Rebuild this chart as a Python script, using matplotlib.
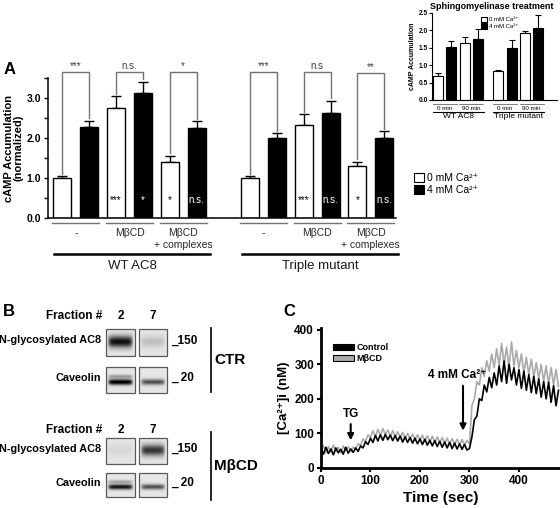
import numpy as np
import matplotlib
matplotlib.use('Agg')
import matplotlib.pyplot as plt
from matplotlib.patches import Rectangle, Patch

plt.rcParams['font.family'] = ['Liberation Sans', 'DejaVu Sans']

W, H = 560, 508

# ---- panel A data ----
a_pos = [0, 1, 2, 3, 4, 5, 7, 8, 9, 10, 11, 12]
a_mean = [1.00, 2.28, 2.74, 3.12, 1.41, 2.24, 1.00, 1.99, 2.33, 2.62, 1.31, 2.01]
a_err = [0.05, 0.15, 0.31, 0.29, 0.15, 0.18, 0.05, 0.13, 0.26, 0.31, 0.10, 0.16]
a_inbar = ['', '', '***', '*', '*', 'n.s.', '', '', '***', 'n.s.', '*', 'n.s.']
a_sig = ['***', 'n.s.', '*', '***', 'n.s', '**']
a_groups = ['-', 'MβCD', 'MβCD\n+ complexes'] * 2
a_lines = ['WT AC8', 'Triple mutant']
a_legend = ['0 mM Ca²⁺', '4 mM Ca²⁺']

# ---- inset (sphingomyelinase) data ----
s_pos = [0, 1, 2, 3, 4.5, 5.5, 6.5, 7.5]
s_mean = [0.70, 1.52, 1.62, 1.76, 0.82, 1.50, 1.93, 2.07]
s_err = [0.06, 0.18, 0.18, 0.28, 0.03, 0.21, 0.06, 0.36]
s_time = ['0 min', '90 min'] * 2
s_lines = ['WT AC8', 'Triple mutant']

# ---- panel B (western blots) ----
b_conditions = ['CTR', 'MβCD']
b_rows = ['N-glycosylated AC8', 'Caveolin']
b_markers = ['_150', '_ 20']
b_lanes = ['2', '7']
# band darkness [condition][row][lane]
b_strength = [[[0.85, 0.15], [0.97, 0.6]],
              [[0.06, 0.7], [0.85, 0.6]]]

# ---- panel C data (sampled every 5 s) ----
c_time = np.arange(0, 481, 5)
c_control = [58, 40, 60, 42, 55, 38, 58, 44, 54, 40, 60, 43, 55,
             45, 58, 48, 64, 58, 76, 68, 86,
             74, 94, 78, 96, 80, 97, 82, 95, 79, 94,
             78, 92, 75, 90, 74, 88, 72, 86, 70, 84,
             68, 83, 66, 80, 64, 79, 62, 77, 60, 75,
             58, 74, 56, 72, 55, 70, 54, 68, 52, 56,
             90, 140, 150, 200, 195, 240, 220, 262, 232, 275,
             240, 295, 250, 310, 245, 300, 255, 290, 240, 285,
             230, 280, 225, 270, 218, 265, 215, 258, 205, 250,
             200, 248, 190, 238, 180, 225]
c_mbcd = [50, 65, 44, 62, 46, 66, 48, 60, 44, 64, 50, 62, 48,
          60, 55, 70, 66, 84, 76, 96, 88,
          108, 90, 112, 94, 114, 96, 110, 92, 108, 90,
          105, 88, 103, 86, 100, 84, 98, 82, 96, 80,
          95, 78, 93, 76, 92, 74, 90, 73, 88, 72,
          86, 70, 85, 69, 83, 68, 82, 67, 80, 70,
          180, 200, 250, 240, 290, 265, 310, 280, 330, 290,
          345, 295, 360, 300, 350, 290, 365, 295, 340, 290,
          330, 275, 320, 270, 315, 262, 305, 258, 300, 250,
          295, 245, 290, 240, 285, 235]


def box(x0, y0, x1, y1):
    return [x0 / W, 1 - y1 / H, (x1 - x0) / W, (y1 - y0) / H]


fig = plt.figure(figsize=(W / 100, H / 100), dpi=100)

# ================= panel A =================
ax = fig.add_axes(box(48, 78, 396, 218))
colors = ['white', 'black'] * 6
ax.bar(a_pos, a_mean, width=0.67, color=colors, edgecolor='black', linewidth=1.0, zorder=2)
ax.errorbar(a_pos, a_mean, yerr=[np.zeros(len(a_err)), a_err], fmt='none',
            ecolor='black', elinewidth=1.0, capsize=3.5, capthick=1.0, zorder=1)
ax.set_xlim(-0.54, 12.44)
ax.set_ylim(0, 3.5)
ax.set_yticks(np.arange(0, 3.51, 0.5))
ax.set_yticklabels(['%.1f' % v if v % 1 == 0 else '' for v in np.arange(0, 3.51, 0.5)],
                   fontsize=7.5, fontweight='bold')
ax.set_xticks([])
ax.tick_params(axis='y', length=3, width=1, pad=2)
for s in ['top', 'right']:
    ax.spines[s].set_visible(False)
ax.spines['left'].set_linewidth(1.1)
ax.spines['bottom'].set_linewidth(1.1)
ax.set_ylabel('cAMP Accumulation\n(normalized)', fontsize=8, fontweight='bold',
              linespacing=1.0, labelpad=2)

for i, txt in enumerate(a_inbar):
    if txt:
        ax.text(a_pos[i], 0.45, txt, ha='center', va='center', fontsize=7,
                color='black' if i % 2 == 0 else 'white', zorder=3)

for k, lab in enumerate(a_sig):
    l, r = 2 * k, 2 * k + 1
    lvl = 3.62 if lab == '**' else 3.65
    ax.plot([a_pos[l], a_pos[l], a_pos[r], a_pos[r]],
            [a_mean[l] + a_err[l] + 0.06, lvl, lvl, a_mean[r] + a_err[r] + 0.06],
            color='0.45', lw=1.0, clip_on=False, zorder=1)
    ax.text((a_pos[l] + a_pos[r]) / 2, lvl + 0.02, lab, ha='center', va='bottom',
            fontsize=7, color='0.25', clip_on=False)

for k, lab in enumerate(a_groups):
    l, r = a_pos[2 * k], a_pos[2 * k + 1]
    ax.plot([l - 0.38, r + 0.38], [-0.12, -0.12], color='0.45', lw=1.0, clip_on=False)
    ax.text((l + r) / 2, -0.25, lab, ha='center', va='top', fontsize=7.5,
            linespacing=1.25, color='0.15')

for k, lab in enumerate(a_lines):
    l, r = a_pos[6 * k], a_pos[6 * k + 5]
    ax.plot([l - 0.3, r + 0.5], [-0.9, -0.9], color='black', lw=1.8, clip_on=False)
    ax.text((l + r) / 2 + 0.1, -1.05, lab, ha='center', va='top', fontsize=9.5, color='0.1')

fig.text(4 / W, 1 - 70 / H, 'A', fontsize=12, fontweight='bold', va='center')

# legend A
leg_handles = [Patch(facecolor='white', edgecolor='black', lw=0.8),
               Patch(facecolor='black', edgecolor='black', lw=0.8)]
fig.legend(leg_handles, a_legend, loc='upper left', bbox_to_anchor=(409 / W, 1 - 168 / H),
           frameon=False, fontsize=7.5, handlelength=0.9, handleheight=0.9,
           handletextpad=0.3, borderpad=0, labelspacing=0.2)

# ================= inset =================
ai = fig.add_axes(box(432, 12.7, 557, 100))
ai.bar(s_pos, s_mean, width=0.75, color=['white', 'black'] * 4, edgecolor='black',
       linewidth=0.8, zorder=2)
ai.errorbar(s_pos, s_mean, yerr=[np.zeros(len(s_err)), s_err], fmt='none',
            ecolor='black', elinewidth=0.8, capsize=2, capthick=0.8, zorder=1)
ai.set_xlim(-0.45, 8.9)
ai.set_ylim(0, 2.5)
ai.set_yticks(np.arange(0, 2.51, 0.5))
ai.set_yticklabels(['%.1f' % v for v in np.arange(0, 2.51, 0.5)], fontsize=4.8,
                   fontweight='bold')
ai.set_xticks([])
ai.tick_params(axis='y', length=2, width=0.8, pad=1)
for s in ['top', 'right']:
    ai.spines[s].set_visible(False)
ai.spines['left'].set_linewidth(0.8)
ai.spines['bottom'].set_linewidth(0.8)
ai.set_ylabel('cAMP Accumulation', fontsize=5, fontweight='bold', labelpad=2)
ai.set_title('Sphingomyelinase treatment', fontsize=6.5, fontweight='bold', pad=3,
             x=0.48)
for k, lab in enumerate(s_time):
    l, r = s_pos[2 * k], s_pos[2 * k + 1]
    ai.plot([l - 0.4, r + 0.4], [-0.11, -0.11], color='0.4', lw=0.6, clip_on=False)
    ai.text((l + r) / 2, -0.16, lab, ha='center', va='top', fontsize=4.5)
for k, lab in enumerate(s_lines):
    l, r = s_pos[4 * k], s_pos[4 * k + 3]
    ai.plot([l - 0.4, r + 0.45], [-0.34, -0.34], color='black', lw=0.8, clip_on=False)
    ai.text((l + r) / 2, -0.38, lab, ha='center', va='top', fontsize=6)
ai.legend(leg_handles, a_legend, loc='upper left', bbox_to_anchor=(0.37, 0.99),
          frameon=False, fontsize=4.3, handlelength=1.0, handleheight=1.0,
          handletextpad=0.3, borderpad=0, labelspacing=0.15)

# ================= panel B =================
ab = fig.add_axes(box(0, 300, 290, 508))
ab.axis('off')
lane_x = [(106, 135), (139, 167)]
header_y = [316, 430]
row_y = [[(329, 356), (367, 393)], [(438, 464), (473, 497)]]
bar_y = [(328, 392), (432, 500)]
band_c = [0.47, 0.58]
band_w = [0.22, 0.11]


def blot(x0, x1, y0, y1, c, w, k, extra):
    yy = np.linspace(0, 1, 50)[:, None]
    xx = np.linspace(0, 1, 50)[None, :]
    edge = np.clip(1 - ((xx - 0.5) / 0.46) ** 6, 0, 1)
    img = 0.1 + k * np.exp(-((yy - c) / w) ** 2) * edge
    if extra:
        img = img + 0.3 * k * np.exp(-((yy - c + 0.22) / 0.07) ** 2) * edge
    ab.imshow(img, extent=(x0, x1, y1, y0), cmap='gray_r', vmin=0, vmax=1,
              aspect='auto', interpolation='bilinear')
    ab.add_patch(Rectangle((x0, y0), x1 - x0, y1 - y0, fill=False, ec='0.35', lw=0.9))


for ci, cond in enumerate(b_conditions):
    ab.text(102, header_y[ci], 'Fraction #', ha='right', va='center', fontsize=8.5,
            fontweight='bold')
    for li, lane in enumerate(b_lanes):
        ab.text(sum(lane_x[li]) / 2, header_y[ci], lane, ha='center', va='center',
                fontsize=8.5, fontweight='bold')
    for ri, row in enumerate(b_rows):
        y0, y1 = row_y[ci][ri]
        for li in range(2):
            blot(lane_x[li][0], lane_x[li][1], y0, y1, band_c[ri], band_w[ri],
                 b_strength[ci][ri][li], ri == 1 and li == 0)
        ab.text(101, (y0 + y1) / 2 - 2, row, ha='right', va='center', fontsize=7.8,
                fontweight='bold')
        ab.text(171, (y0 + y1) / 2 - 2, b_markers[ri], ha='left', va='center',
                fontsize=8.5, fontweight='bold')
    ab.plot([211, 211], bar_y[ci], color='black', lw=1.2)
    ab.text(214, sum(bar_y[ci]) / 2, cond, ha='left', va='center', fontsize=11,
            fontweight='bold')
ab.set_xlim(0, 290)
ab.set_ylim(508, 300)
fig.text(3 / W, 1 - 312 / H, 'B', fontsize=12, fontweight='bold', va='center')

# ================= panel C =================
ac = fig.add_axes(box(321, 328, 560, 468))
ac.plot(c_time, c_mbcd, color='#aaaaaa', lw=1.2)
ac.plot(c_time, c_control, color='black', lw=1.2)
ac.set_xlim(0, 483)
ac.set_ylim(0, 405)
ac.set_xticks([0, 100, 200, 300, 400])
ac.set_yticks([0, 100, 200, 300, 400])
ac.tick_params(length=3, width=1.5, labelsize=8.5, pad=2)
for lab in ac.get_xticklabels() + ac.get_yticklabels():
    lab.set_fontweight('bold')
for s in ['top', 'right']:
    ac.spines[s].set_visible(False)
ac.spines['left'].set_linewidth(2)
ac.spines['bottom'].set_linewidth(2)
ac.set_xlabel('Time (sec)', fontsize=11, fontweight='bold', labelpad=3)
ac.set_ylabel('[Ca²⁺]i (nM)', fontsize=9.5, fontweight='bold', labelpad=3)
ac.annotate('', xy=(60, 72), xytext=(60, 135),
            arrowprops=dict(arrowstyle='-|>', lw=1.5, color='black', mutation_scale=9))
ac.text(60, 140, 'TG', ha='center', va='bottom', fontsize=8.5, fontweight='bold')
ac.annotate('', xy=(287, 100), xytext=(287, 246),
            arrowprops=dict(arrowstyle='-|>', lw=1.5, color='black', mutation_scale=9))
ac.text(275, 252, '4 mM Ca²⁺', ha='center', va='bottom', fontsize=8.5,
        fontweight='bold')
c_handles = [Patch(facecolor='black', edgecolor='black', lw=0.8),
             Patch(facecolor='#aaaaaa', edgecolor='black', lw=0.8)]
ac.legend(c_handles, ['Control', 'MβCD'], loc='upper left', bbox_to_anchor=(0.05, 0.89),
          frameon=False, prop={'size': 6.5, 'weight': 'bold'}, handlelength=2.3,
          handleheight=0.6, handletextpad=0.3, borderpad=0, borderaxespad=0,
          labelspacing=0.2)
fig.text(283 / W, 1 - 312 / H, 'C', fontsize=12, fontweight='bold', va='center')

fig.savefig('out.png', dpi=100)
